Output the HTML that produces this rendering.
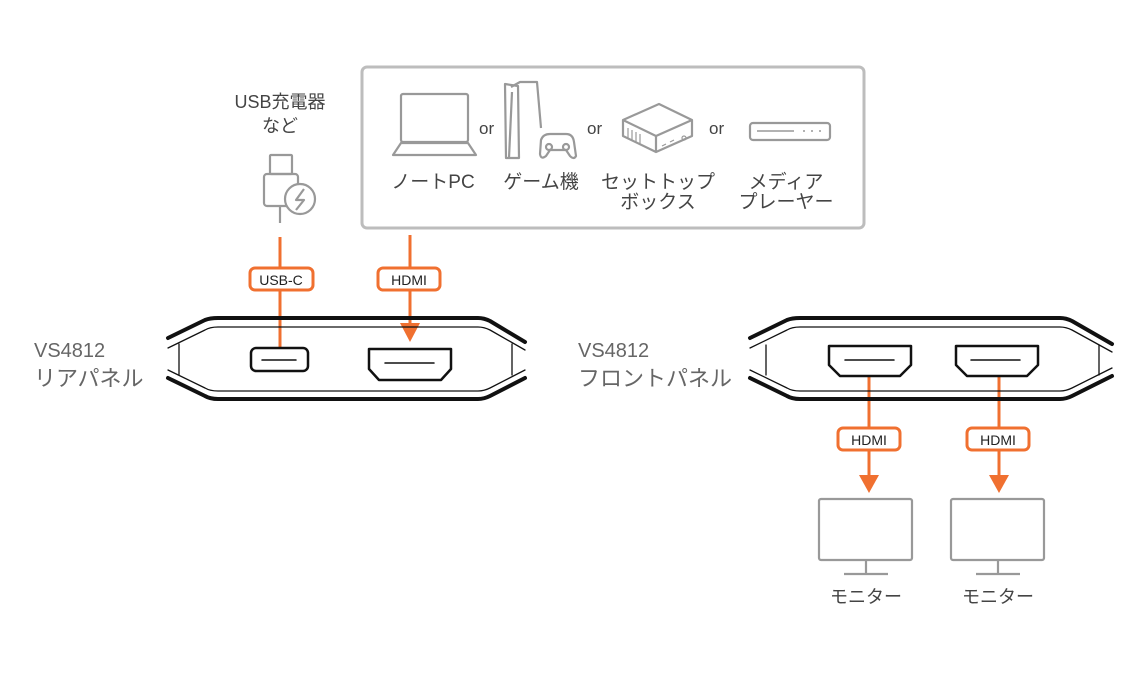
<!DOCTYPE html>
<html><head><meta charset="utf-8"><style>
html,body{margin:0;padding:0;background:#fff;}
svg{display:block;}
text{font-family:"Liberation Sans","Noto Sans CJK JP",sans-serif;}
</style></head><body>
<svg width="1140" height="689" viewBox="0 0 1140 689" xmlns="http://www.w3.org/2000/svg">
<!-- Device box -->
<rect x="362" y="67" width="502" height="161" rx="5" fill="none" stroke="#bdbdbd" stroke-width="3"/>
<g fill="none" stroke="#999" stroke-width="2.2" stroke-linejoin="round">
  <!-- laptop -->
  <rect x="401" y="94" width="67" height="48" rx="2"/>
  <path d="M401,143 L468,143 L476,155 L393,155 Z"/>
  <!-- ps5 -->
  <path d="M505,84 L518,86 L519,158 L506,158 Z"/>
  <path d="M511,87 L520,82 L537,82 L541,128"/>
  <path d="M509,158 L512,92"/>
  <path d="M541,140 Q543,134 550,134 L566,134 Q573,134 574,142 L576,156 Q574,160 570,156 L566,150 L550,150 L546,156 Q541,160 540,154 Z"/>
  <circle cx="549" cy="147" r="3"/><circle cx="566" cy="147" r="3"/>
  <!-- set top box -->
  <path d="M623,120 L659,104 L692,120 L692,136 L656,152 L623,136 Z"/>
  <path d="M623,120 L656,136 L692,120 M656,136 L656,152"/>
  <path d="M628,128 L628,138 M632,130 L632,140 M636,132 L636,142 M640,134 L640,144" stroke-width="1.2"/>
  <path d="M662,146 L666,144 M670,142 L674,140" stroke-width="1.2"/>
  <circle cx="684" cy="138" r="2" stroke-width="1.2"/>
  <!-- media player -->
  <rect x="750" y="123" width="80" height="17" rx="3"/>
  <path d="M757,131 L794,131" stroke-width="1.5"/>
  <path d="M803,131 L805,131 M811,131 L813,131 M819,131 L821,131" stroke-width="1.5"/>
</g>
<g font-size="17" fill="#444">
  <text x="479" y="134">or</text>
  <text x="587" y="134">or</text>
  <text x="709" y="134">or</text>
</g>
<g font-size="19" fill="#444" text-anchor="middle">
  <text x="433" y="188">ノートPC</text>
  <text x="541" y="188">ゲーム機</text>
  <text x="658" y="188">セットトップ</text>
  <text x="658" y="208">ボックス</text>
  <text x="786" y="188">メディア</text>
  <text x="786" y="208">プレーヤー</text>
</g>
<!-- USB charger -->
<text x="280" y="108" font-size="18" fill="#444" text-anchor="middle">USB充電器</text>
<text x="280" y="132" font-size="18" fill="#444" text-anchor="middle">など</text>
<g fill="none" stroke="#999" stroke-width="2.2" stroke-linejoin="round">
  <rect x="270" y="155" width="22" height="19" rx="1"/>
  <rect x="264" y="174" width="34" height="32" rx="3"/>
  <path d="M280,206 L280,223"/>
  <circle cx="300" cy="199" r="15" fill="#fff"/>
  <path d="M304,189 L296,200 L304,200 L296,210"/>
</g>
<!-- Orange connectors -->
<g stroke="#f07030" stroke-width="3" fill="none">
  <path d="M280,237 L280,348"/>
  <path d="M410,235 L410,325"/>
  <path d="M869,377 L869,478"/>
  <path d="M999,377 L999,478"/>
</g>
<g fill="#f07030">
  <path d="M400,323 L420,323 L410,342 Z"/>
  <path d="M859,475 L879,475 L869,493 Z"/>
  <path d="M989,475 L1009,475 L999,493 Z"/>
</g>
<g fill="#fff" stroke="#f07030" stroke-width="3">
  <rect x="250" y="268" width="63" height="22" rx="5"/>
  <rect x="378" y="268" width="62" height="22" rx="5"/>
  <rect x="838" y="428" width="62" height="22" rx="5"/>
  <rect x="967" y="428" width="62" height="22" rx="5"/>
</g>
<g font-size="14" fill="#222" text-anchor="middle">
  <text x="281" y="285">USB-C</text>
  <text x="409" y="285">HDMI</text>
  <text x="869" y="445">HDMI</text>
  <text x="998" y="445">HDMI</text>
</g>
<!-- Rear panel -->
<g fill="none" stroke="#111" stroke-linejoin="round" stroke-linecap="round">
  <path d="M168,338 L205,320 Q210,318 218,318 L478,318 Q484,318 490,321 L525,342" stroke-width="4"/>
  <path d="M168,378 L205,396 Q210,399 218,399 L478,399 Q484,399 490,396 L525,378" stroke-width="4"/>
  <path d="M168,348 L205,330 Q210,327 218,327 L478,327 Q484,327 490,330 L525,350" stroke-width="1.3"/>
  <path d="M168,370 L205,388 Q210,391 218,391 L478,391 Q484,391 490,388 L525,370" stroke-width="1.3"/>
  <path d="M179,344 L179,375 M512,344 L512,375" stroke-width="1.3"/>
  <rect x="251" y="348" width="57" height="23" rx="5" stroke-width="2.5"/>
  <path d="M262,360 L296,360" stroke-width="1.5"/>
  <path d="M369,349 L451,349 L451,369 L441,380 L379,380 L369,369 Z" stroke-width="2.5"/>
  <path d="M385,363 L434,363" stroke-width="1.5"/>
  <!-- Front panel -->
  <path d="M750,338 L787,320 Q792,318 800,318 L1060,318 Q1066,318 1072,321 L1112,344" stroke-width="4"/>
  <path d="M750,378 L787,396 Q792,399 800,399 L1060,399 Q1066,399 1072,396 L1112,376" stroke-width="4"/>
  <path d="M750,348 L787,330 Q792,327 800,327 L1060,327 Q1066,327 1072,330 L1112,352" stroke-width="1.3"/>
  <path d="M750,370 L787,388 Q792,391 800,391 L1060,391 Q1066,391 1072,388 L1112,368" stroke-width="1.3"/>
  <path d="M766,345 L766,375 M1099,345 L1099,375" stroke-width="1.3"/>
  <path d="M829,346 L911,346 L911,365 L900,376 L840,376 L829,365 Z" stroke-width="2.5"/>
  <path d="M845,360 L894,360" stroke-width="1.5"/>
  <path d="M956,346 L1038,346 L1038,365 L1027,376 L967,376 L956,365 Z" stroke-width="2.5"/>
  <path d="M971,360 L1020,360" stroke-width="1.5"/>
</g>
<g fill="#666">
  <text x="34" y="357" font-size="20">VS4812</text>
  <text x="34" y="386" font-size="22">リアパネル</text>
  <text x="578" y="357" font-size="20">VS4812</text>
  <text x="578" y="386" font-size="22">フロントパネル</text>
</g>
<!-- Monitors -->
<g fill="none" stroke="#999" stroke-width="2.2">
  <rect x="819" y="499" width="93" height="61" rx="2"/>
  <path d="M866,560 L866,573 M844,574 L888,574"/>
  <rect x="951" y="499" width="93" height="61" rx="2"/>
  <path d="M998,560 L998,573 M976,574 L1020,574"/>
</g>
<g font-size="18" fill="#444" text-anchor="middle">
  <text x="866" y="603">モニター</text>
  <text x="998" y="603">モニター</text>
</g>
</svg>
</body></html>
